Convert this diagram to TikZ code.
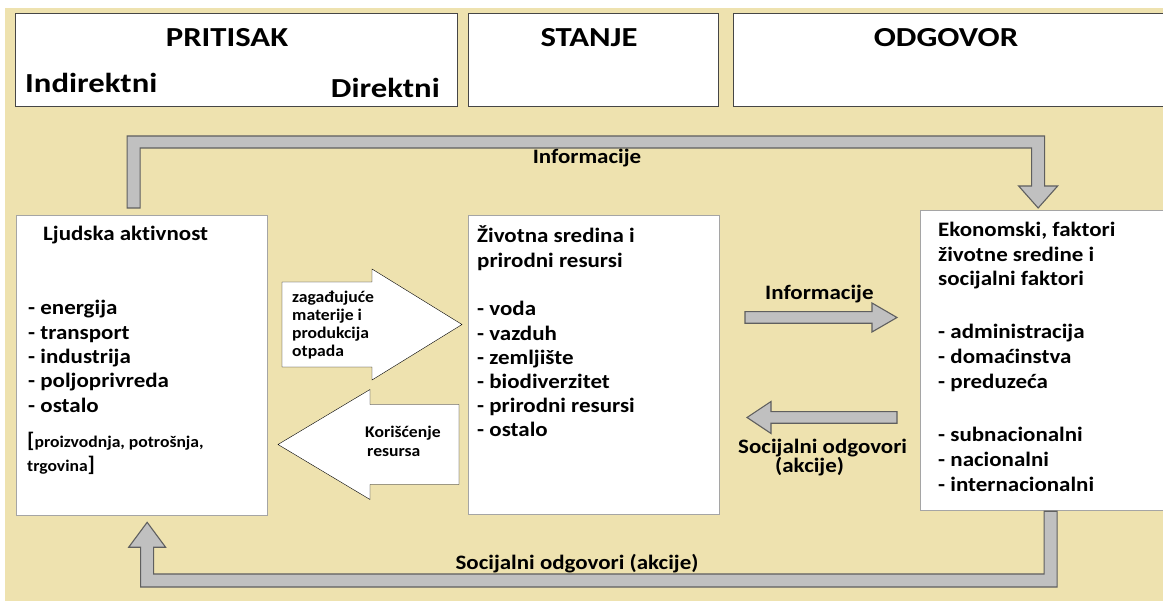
\documentclass[tikz,border=0pt]{standalone}
\usepackage{fontspec}
\setmainfont{Carlito}[Ligatures=NoCommon]
\newfontfamily\hdrfont{Carlito}[FakeStretch=1.19, Ligatures=NoCommon]
\newfontfamily\bodyfont{Carlito}[FakeStretch=1.12, Ligatures=NoCommon]
\newfontfamily\smallfont{Carlito}[FakeStretch=1.08, Ligatures=NoCommon]
\usetikzlibrary{calc}

\definecolor{bgbeige}{RGB}{238,226,175}
\definecolor{arrowgray}{RGB}{192,192,192}
\definecolor{arrowedge}{RGB}{95,95,95}
\definecolor{hdredge}{RGB}{70,70,70}
\definecolor{paneledge}{RGB}{165,165,165}

% horizontal block arrow: #1 style, #2 tail, #3 tip, #4 shaft half height,
% #5 head half height, #6 head length
\newcommand{\hblock}[6]{%
  \filldraw[#1] let \p1=(#2), \p2=(#3), \n1={sign(\x2-\x1)} in
    (\x1,\y2+#4) -- (\x2-\n1*#6,\y2+#4) -- (\x2-\n1*#6,\y2+#5) -- (\x2,\y2)
    -- (\x2-\n1*#6,\y2-#5) -- (\x2-\n1*#6,\y2-#4) -- (\x1,\y2-#4) -- cycle;}

\tikzset{
  hdrbox/.style={draw=hdredge, line width=1.1pt, fill=white, anchor=north west, inner sep=0pt},
  panel/.style={draw=paneledge, line width=1.3pt, fill=white, anchor=north west, inner sep=0pt},
  hdrtxt/.style={font=\hdrfont\fontsize{27.5}{30}\selectfont\bfseries, inner sep=0pt},
  bodytxt/.style={font=\bodyfont\fontsize{20.5}{24}\selectfont\bfseries, inner sep=0pt, anchor=base west},
  smalltxt/.style={font=\smallfont\fontsize{16.3}{18}\selectfont\bfseries, inner sep=0pt, anchor=base west},
  gblock/.style={fill=arrowgray, draw=arrowedge, line width=1.1pt, line join=miter},
  wblock/.style={fill=white},
}

\begin{document}
\begin{tikzpicture}[x=1pt, y=-1pt]
\useasboundingbox (0,0) rectangle (1163,601);
\fill[white] (0,0) rectangle (1163,601);
\fill[bgbeige] (5,8) rectangle (1163,601);

% column headers
\node[hdrbox, minimum width=442, minimum height=93] (pritisak) at (15,13) {};
\node[hdrbox, minimum width=250, minimum height=93] (stanje) at (468,13) {};
\node[hdrbox, minimum width=432, minimum height=93] (odgovor) at (733,13) {};
\node[hdrtxt, anchor=base] (t-pritisak) at (227,47) {PRITISAK};
\node[hdrtxt, anchor=base west] (t-indirektni) at (25,93) {Indirektni};
\node[hdrtxt, anchor=base east] (t-direktni) at (440,98) {Direktni};
\node[hdrtxt, anchor=base] (t-stanje) at (589,47) {STANJE};
\node[hdrtxt, anchor=base] (t-odgovor) at (946,47) {ODGOVOR};

% the three panels
\node[panel, minimum width=251, minimum height=300] (la) at (16,215) {};
\node[panel, minimum width=251, minimum height=299] (ms) at (468,215) {};
\node[panel, minimum width=245, minimum height=300] (rb) at (920,210) {};

% human activity
\node[bodytxt] (la-title) at (43,241) {Ljudska aktivnost};
\foreach \t [count=\i] in {energija, transport, industrija, poljoprivreda, ostalo}
  \node[bodytxt] (la-\i) at (28,{315+24.3*(\i-1)}) {- \t};
\node[smalltxt] (la-extra1) at (27,448) {{\fontsize{21}{24}\selectfont[}proizvodnja, potrošnja,};
\node[smalltxt] (la-extra2) at (27,472) {trgovina{\fontsize{21}{24}\selectfont]}};

% environment and natural resources
\node[bodytxt] (ms-title1) at (477,243) {Životna sredina i};
\node[bodytxt] (ms-title2) at (477,268) {prirodni resursi};
\foreach \t [count=\i] in {voda, vazduh, zemljište, biodiverzitet, prirodni resursi, ostalo}
  \node[bodytxt] (ms-\i) at (477,{316+24.2*(\i-1)}) {- \t};

% economic, environmental and social factors
\node[bodytxt] (rb-title1) at (938,237) {Ekonomski, faktori};
\node[bodytxt] (rb-title2) at (938,262) {životne sredine i};
\node[bodytxt] (rb-title3) at (938,286) {socijalni faktori};
\foreach \t [count=\i] in {administracija, domaćinstva, preduzeća}
  \node[bodytxt] (rb-a\i) at (938,{339+25*(\i-1)}) {- \t};
\foreach \t [count=\i] in {subnacionalni, nacionalni, internacionalni}
  \node[bodytxt] (rb-b\i) at (938,{442+25*(\i-1)}) {- \t};

% white flow arrows between activity and environment
\coordinate (pollTail) at (282,324.5);
\coordinate (pollTip) at (462,324.5);
\hblock{wblock}{pollTail}{pollTip}{42.5pt}{55.5pt}{90pt}
\coordinate (useTail) at (459,444.5);
\coordinate (useTip) at (278,444.5);
\hblock{wblock}{useTail}{useTip}{40pt}{55pt}{92pt}
\begin{scope}
  \clip (280,260) rectangle (400,358.5);
  \node[smalltxt] (poll-1) at (292,303) {zagađujuće};
  \node[smalltxt] (poll-2) at (292,321) {materije i};
  \node[smalltxt] (poll-3) at (292,339) {produkcija};
  \node[smalltxt] (poll-4) at (292,357) {otpada};
\end{scope}
\node[smalltxt] (use-1) at (365,438) {Korišćenje};
\node[smalltxt] (use-2) at (367,457) {resursa};

% gray arrows between environment and factors
\coordinate (infoTail) at (745,317.5);
\coordinate (infoTip) at (897,317.5);
\hblock{gblock}{infoTail}{infoTip}{5.8pt}{14.5pt}{25pt}
\coordinate (socTail) at (897,417.5);
\coordinate (socTip) at (747,417.5);
\hblock{gblock}{socTail}{socTip}{5.8pt}{16pt}{24pt}
\node[bodytxt] (info-mid) at (765,300) {Informacije};
\node[bodytxt] (soc-mid1) at (738,454) {Socijalni odgovori};
\node[bodytxt] (soc-mid2) at (775,473) {(akcije)};

% information loop over the top
\coordinate (topFoot) at ($(la.north)+(-8.5,-7)$);
\coordinate (topTip) at ($(rb.north)+(-5,-2)$);
\coordinate (topLevel) at (0,142);
\filldraw[gblock] let \p1=(topFoot), \p2=(topTip), \p3=(topLevel) in
  (\x1-6.5pt,\y1) -- (\x1-6.5pt,\y3+6pt) -- (\x2+6.5pt,\y3+6pt)
  -- (\x2+6.5pt,\y2+22pt) -- (\x2+19.5pt,\y2+22pt) -- (\x2,\y2)
  -- (\x2-19.5pt,\y2+22pt) -- (\x2-6.5pt,\y2+22pt) -- (\x2-6.5pt,\y3-6pt)
  -- (\x1+6.5pt,\y3-6pt) -- (\x1+6.5pt,\y1) -- cycle;
\node[bodytxt, anchor=base] (info-top) at (587,164) {Informacije};

% social response loop along the bottom
\coordinate (botFoot) at ($(rb.south)+(7.5,0)$);
\coordinate (botTip) at ($(la.south)+(5,6)$);
\coordinate (botLevel) at (0,580.5);
\filldraw[gblock] let \p1=(botFoot), \p2=(botTip), \p3=(botLevel) in
  (\x1-6.5pt,\y1) -- (\x1-6.5pt,\y3+6.5pt) -- (\x2+6.5pt,\y3+6.5pt)
  -- (\x2+6.5pt,\y2-25pt) -- (\x2+18.5pt,\y2-25pt) -- (\x2,\y2)
  -- (\x2-18.5pt,\y2-25pt) -- (\x2-6.5pt,\y2-25pt) -- (\x2-6.5pt,\y3-6.5pt)
  -- (\x1+6.5pt,\y3-6.5pt) -- (\x1+6.5pt,\y1) -- cycle;
\node[bodytxt, anchor=base] (soc-bot) at (577,569) {Socijalni odgovori (akcije)};
\end{tikzpicture}
\end{document}
